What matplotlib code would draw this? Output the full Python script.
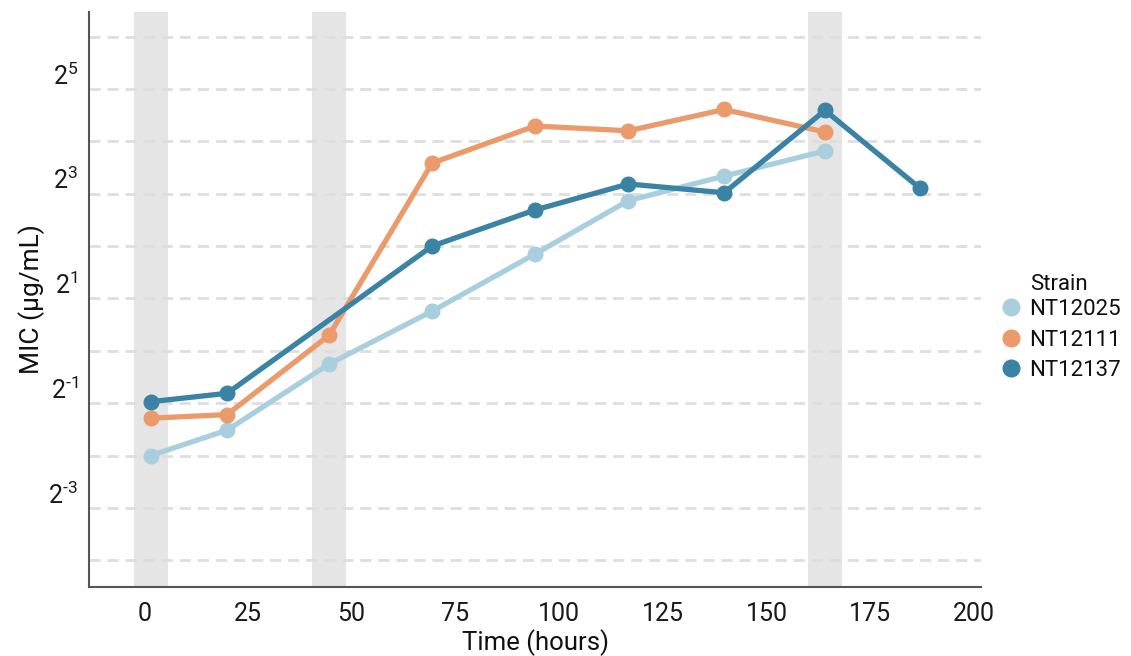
import matplotlib

matplotlib.use("Agg")
import matplotlib.pyplot as plt
import matplotlib.transforms as mtransforms
from matplotlib.lines import Line2D

plt.rcParams["font.family"] = ["Roboto", "DejaVu Sans"]
plt.rcParams["mathtext.fontset"] = "custom"
plt.rcParams["mathtext.rm"] = "Roboto"
plt.rcParams["mathtext.it"] = "Roboto:italic"
plt.rcParams["mathtext.bf"] = "Roboto:bold"

# values
strains = ["NT12025", "NT12111", "NT12137"]

hours_nt12025 = [1.6, 20.0, 44.6, 69.4, 94.2, 116.7, 139.8, 164.1]
mic_nt12025 = [0.25, 0.35, 0.84, 1.69, 3.6, 7.3, 10.1, 14.1]

hours_nt12111 = [1.6, 20.0, 44.6, 69.4, 94.2, 116.7, 139.8, 164.1]
mic_nt12111 = [0.41, 0.43, 1.23, 12.0, 19.6, 18.4, 24.4, 18.1]

hours_nt12137 = [1.6, 20.0, 69.4, 94.2, 116.7, 139.8, 164.1, 187.0]
mic_nt12137 = [0.51, 0.57, 4.0, 6.45, 9.1, 8.1, 24.1, 8.6]

treatment_hours = [1.6, 44.6, 164.1]

x_ticks = [0, 25, 50, 75, 100, 125, 150, 175, 200]
y_label_exps = [-3, -1, 1, 3, 5]
y_grid_exps = [-4, -3, -2, -1, 0, 1, 2, 3, 4, 5, 6]

series = [
    ("NT12025", hours_nt12025, mic_nt12025, "#a9cfdf"),
    ("NT12111", hours_nt12111, mic_nt12111, "#eb9a6b"),
    ("NT12137", hours_nt12137, mic_nt12137, "#3b83a5"),
]

fig = plt.figure(figsize=(11.31, 6.56), dpi=100)
ax = fig.add_axes([89 / 1131, 69 / 656, 892 / 1131, 575 / 656])
ax.set_yscale("log", base=2)

for t in treatment_hours:
    ax.axvspan(t - 4.1, t + 4.1, color="#e5e5e5", lw=0, zorder=0)

for e in y_grid_exps:
    ax.axhline(2.0 ** e, color="#dedede", lw=2.0, dashes=(4, 2.5), zorder=1)

for name, hours, mic, color in series:
    ax.plot(hours, mic, color=color, lw=3.8, marker="o", markersize=10.5,
            solid_capstyle="round", zorder=3, label=name)

ax.set_xlim(-13.3, 201.7)
ax.set_ylim(2.0 ** -4.51, 2.0 ** 6.47)
ax.set_xticks(x_ticks)
ax.set_yticks([2.0 ** e for e in y_label_exps],
              labels=[rf"$2^{{\text{{{e}}}}}$" for e in y_label_exps])
ax.yaxis.set_minor_locator(matplotlib.ticker.NullLocator())
ax.tick_params(axis="both", length=0, labelsize=18, colors="#1a1a1a")
ax.tick_params(axis="x", pad=11)
ax.tick_params(axis="y", pad=8)

offset = mtransforms.ScaledTranslation(0, 11 / 72, fig.dpi_scale_trans)
for label in ax.get_yticklabels():
    label.set_transform(label.get_transform() + offset)

for side in ("top", "right"):
    ax.spines[side].set_visible(False)
for side in ("left", "bottom"):
    ax.spines[side].set_color("#555555")
    ax.spines[side].set_linewidth(1.5)

ax.set_xlabel("Time (hours)", fontsize=18.5, color="#111111", labelpad=2)
ax.set_ylabel("MIC (µg/mL)", fontsize=19, color="#111111", labelpad=2)

handles = [Line2D([], [], ls="none", marker="o", markersize=12, color=c)
           for _, _, _, c in series]
fig.text(1030 / 1131, 1 - 285 / 656, "Strain", fontsize=16, va="center", ha="left",
         color="#111111")
leg = fig.legend(handles, strains, loc="upper left", bbox_to_anchor=(1000 / 1131, 1 - 299 / 656),
                 frameon=False, fontsize=16, handlelength=1.0, handletextpad=0.3,
                 labelspacing=0.43, borderaxespad=0, borderpad=0)
for text in leg.get_texts():
    text.set_color("#111111")

fig.savefig("out.png", dpi=100)
